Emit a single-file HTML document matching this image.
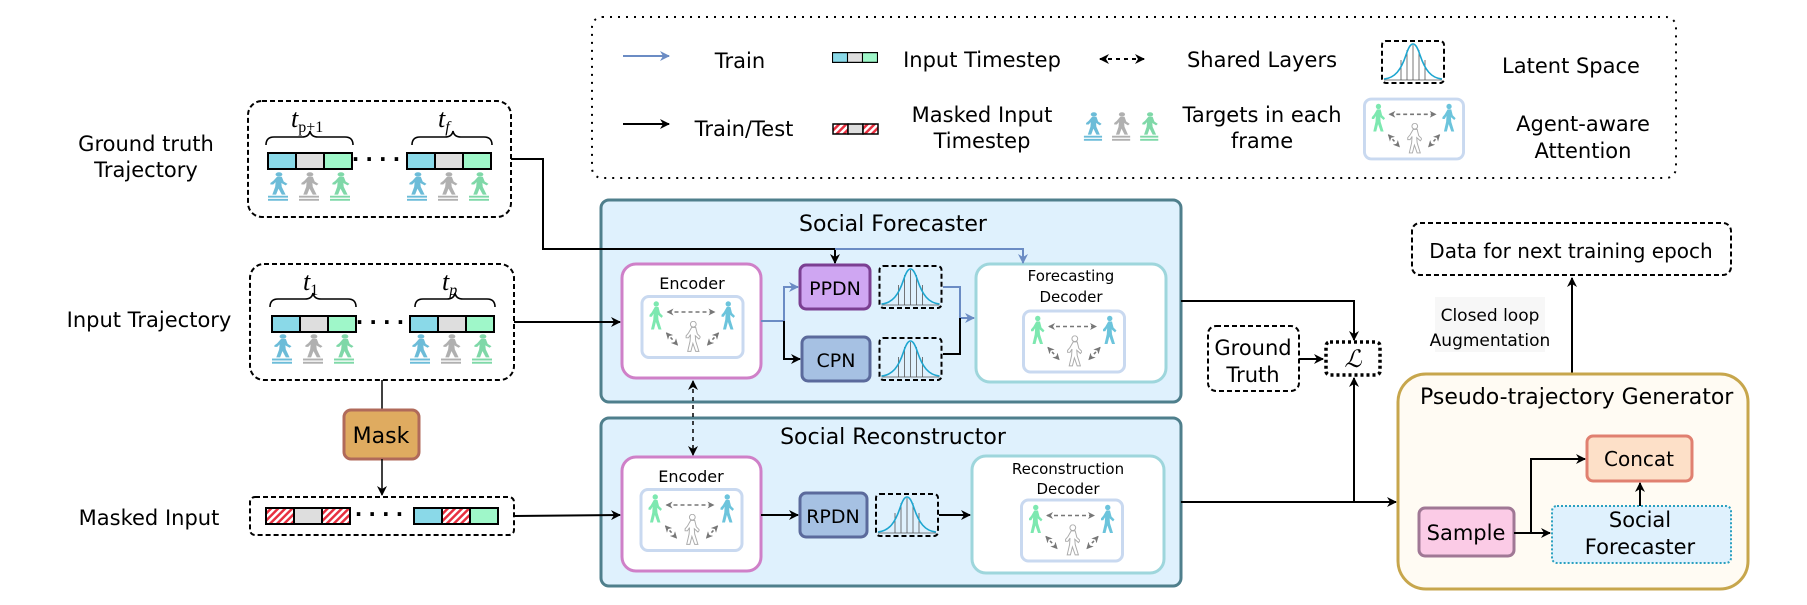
<!DOCTYPE html>
<html><head><meta charset="utf-8"><style>
html,body{margin:0;padding:0;background:#fff;}
svg{display:block;font-family:"DejaVu Sans","Liberation Sans",sans-serif;}
</style></head><body>
<svg width="1807" height="605" viewBox="0 0 1807 605" xmlns="http://www.w3.org/2000/svg">
<defs>
<marker id="ab" markerWidth="10" markerHeight="10" refX="9" refY="5" orient="auto-start-reverse" markerUnits="userSpaceOnUse"><path d="M0,0 L10,5 L0,10 L3,5 z" fill="#000"/></marker>
<marker id="abl" markerWidth="10" markerHeight="10" refX="9" refY="5" orient="auto" markerUnits="userSpaceOnUse"><path d="M0,0 L10,5 L0,10 L3,5 z" fill="#6b8cc4"/></marker>
<marker id="ag" markerWidth="7" markerHeight="7" refX="6" refY="3.5" orient="auto-start-reverse" markerUnits="userSpaceOnUse"><path d="M0,0 L7,3.5 L0,7 L2,3.5 z" fill="#777"/></marker>
<pattern id="hatch" width="5" height="5" patternUnits="userSpaceOnUse" patternTransform="rotate(45)"><rect width="5" height="5" fill="#fff"/><rect width="2.5" height="5" fill="#e83040"/></pattern>
<symbol id="ped" viewBox="0 0 20 40">
<circle cx="11" cy="4" r="3.6" fill="currentColor"/>
<path d="M9,8 L14,8 L16,16 L20,20 L18,22.5 L13.5,18.5 L14,25 L18,38 L14,38 L10.5,28 L8,38 L4,38 L7,25 L7.5,17 L5,21 L2,21 L2,18.5 L5,15 z" fill="currentColor"/>
</symbol>
<symbol id="pedp" viewBox="0 0 20 48">
<use href="#ped" x="0" y="0" width="20" height="38"/>
<rect x="0" y="38" width="20" height="3" fill="currentColor"/>
<rect x="0" y="43" width="20" height="3" fill="currentColor"/>
</symbol>
<symbol id="att" viewBox="0 0 104 64">
<rect x="1.5" y="1.5" width="101" height="61" rx="7" fill="#fff" stroke="#c9d9f0" stroke-width="3"/>
<use href="#ped" x="7" y="6" width="16" height="30" color="#7de8b0"/>
<use href="#ped" x="79" y="6" width="16" height="30" color="#6cc4dc"/>
<use href="#ped" x="44" y="26" width="16" height="32" color="#fff" stroke="#aaa" stroke-width="1.2"/>
<line x1="27" y1="17" x2="74" y2="17" stroke="#777" stroke-width="1.6" stroke-dasharray="4,3" marker-end="url(#ag)" marker-start="url(#ag)"/>
<line x1="26" y1="38" x2="37" y2="50" stroke="#777" stroke-width="1.6" stroke-dasharray="3,3" marker-end="url(#ag)" marker-start="url(#ag)"/>
<line x1="78" y1="38" x2="67" y2="50" stroke="#777" stroke-width="1.6" stroke-dasharray="3,3" marker-end="url(#ag)" marker-start="url(#ag)"/>
</symbol>
<symbol id="gauss" viewBox="0 0 64 44">
<rect x="1" y="1" width="62" height="42" rx="4" fill="none" stroke="#000" stroke-width="2" stroke-dasharray="5,3"/>
<g stroke="#555" stroke-width="0.8"><line x1="20" y1="20" x2="20" y2="40"/><line x1="26" y1="10" x2="26" y2="40"/><line x1="32" y1="5" x2="32" y2="40"/><line x1="38" y1="10" x2="38" y2="40"/><line x1="44" y1="20" x2="44" y2="40"/><line x1="3" y1="40" x2="61" y2="40"/></g>
<path d="M3,39 C14,38 20,30 25,15 C28,6 30,4 32,4 C34,4 36,6 39,15 C44,30 50,38 61,39" fill="none" stroke="#1ea6d0" stroke-width="1.6"/>
</symbol>
<symbol id="bar" viewBox="0 0 86 18" preserveAspectRatio="none">
<rect x="1" y="1" width="28" height="16" fill="#8ad9e8" stroke="#000" stroke-width="2"/>
<rect x="29" y="1" width="28" height="16" fill="#dedede" stroke="#000" stroke-width="2"/>
<rect x="57" y="1" width="28" height="16" fill="#9ff7c9" stroke="#000" stroke-width="2"/>
</symbol>
<symbol id="peds3" viewBox="0 0 86 48" preserveAspectRatio="none">
<use href="#pedp" x="0" y="0" width="22" height="48" color="#6cbcd8"/>
<use href="#pedp" x="31" y="0" width="22" height="48" color="#b0b0b0"/>
<use href="#pedp" x="62" y="0" width="22" height="48" color="#7fd8a8"/>
</symbol>
</defs>

<!-- Legend -->
<rect x="592" y="17" width="1084" height="161" rx="10" fill="none" stroke="#000" stroke-width="2" stroke-dasharray="2,6"/>
<line x1="623" y1="56" x2="669" y2="56" stroke="#6b8cc4" stroke-width="2" marker-end="url(#abl)"/>
<text x="740" y="68" font-size="21" text-anchor="middle">Train</text>
<use href="#bar" x="832" y="52" width="46" height="11"/>
<text x="982" y="67" font-size="21" text-anchor="middle">Input Timestep</text>
<line x1="1100" y1="59" x2="1144" y2="59" stroke="#000" stroke-width="2" stroke-dasharray="4,4" marker-end="url(#ab)" marker-start="url(#ab)"/>
<text x="1262" y="67" font-size="21" text-anchor="middle">Shared Layers</text>
<use href="#gauss" x="1381" y="40" width="64" height="44"/>
<text x="1571" y="73" font-size="21" text-anchor="middle">Latent Space</text>
<line x1="623" y1="124" x2="669" y2="124" stroke="#000" stroke-width="2" marker-end="url(#ab)"/>
<text x="744" y="136" font-size="21" text-anchor="middle">Train/Test</text>
<rect x="833" y="124" width="15" height="10" fill="url(#hatch)" stroke="#000" stroke-width="1.5"/>
<rect x="848" y="124" width="15" height="10" fill="#dedede" stroke="#000" stroke-width="1.5"/>
<rect x="863" y="124" width="15" height="10" fill="url(#hatch)" stroke="#000" stroke-width="1.5"/>
<text x="982" y="122" font-size="21" text-anchor="middle">Masked Input</text>
<text x="982" y="148" font-size="21" text-anchor="middle">Timestep</text>
<use href="#peds3" x="1083" y="112" width="78" height="30"/>
<text x="1262" y="122" font-size="21" text-anchor="middle">Targets in each</text>
<text x="1262" y="148" font-size="21" text-anchor="middle">frame</text>
<use href="#att" x="1363" y="96" width="102" height="66"/>
<text x="1583" y="131" font-size="21" text-anchor="middle">Agent-aware</text>
<text x="1583" y="158" font-size="21" text-anchor="middle">Attention</text>

<!-- Left labels -->
<text x="146" y="151" font-size="21" text-anchor="middle">Ground truth</text>
<text x="146" y="177" font-size="21" text-anchor="middle">Trajectory</text>
<text x="149" y="327" font-size="21" text-anchor="middle">Input Trajectory</text>
<text x="149" y="525" font-size="21" text-anchor="middle">Masked Input</text>

<!-- GT box -->
<rect x="248" y="101" width="263" height="116" rx="14" fill="none" stroke="#000" stroke-width="2" stroke-dasharray="5,3"/>
<text x="291" y="127" font-size="26" font-style="italic" font-family="Liberation Serif,serif">t<tspan font-size="16" dy="5" font-style="normal">p+1</tspan></text>
<text x="438" y="127" font-size="26" font-style="italic" font-family="Liberation Serif,serif">t<tspan font-size="16" dy="5">f</tspan></text>
<path d="M266,145 Q266,137 274,137 L302,137 Q309,137 310,131 Q311,137 318,137 L345,137 Q353,137 353,145" fill="none" stroke="#000" stroke-width="1.6"/>
<path d="M412,145 Q412,137 420,137 L445,137 Q452,137 453,131 Q454,137 461,137 L484,137 Q492,137 492,145" fill="none" stroke="#000" stroke-width="1.6"/>
<use href="#bar" x="267" y="152" width="86" height="18"/>
<use href="#bar" x="406" y="152" width="86" height="18"/>
<text x="379" y="166" font-size="20" font-weight="bold" text-anchor="middle" letter-spacing="6">····</text>
<use href="#peds3" x="267" y="172" width="86" height="30"/>
<use href="#peds3" x="406" y="172" width="86" height="30"/>

<!-- Input box -->
<rect x="250" y="264" width="264" height="116" rx="14" fill="none" stroke="#000" stroke-width="2" stroke-dasharray="5,3"/>
<text x="303" y="290" font-size="26" font-style="italic" font-family="Liberation Serif,serif">t<tspan font-size="16" dy="5" font-style="normal">1</tspan></text>
<text x="442" y="290" font-size="26" font-style="italic" font-family="Liberation Serif,serif">t<tspan font-size="16" dy="5">p</tspan></text>
<path d="M270,307 Q270,299 278,299 L305,299 Q312,299 313,293 Q314,299 321,299 L348,299 Q356,299 356,307" fill="none" stroke="#000" stroke-width="1.6"/>
<path d="M415,307 Q415,299 423,299 L447,299 Q454,299 455,293 Q456,299 463,299 L487,299 Q495,299 495,307" fill="none" stroke="#000" stroke-width="1.6"/>
<use href="#bar" x="271" y="315" width="86" height="18"/>
<use href="#bar" x="409" y="315" width="86" height="18"/>
<text x="383" y="329" font-size="20" font-weight="bold" text-anchor="middle" letter-spacing="6">····</text>
<use href="#peds3" x="271" y="334" width="86" height="31"/>
<use href="#peds3" x="409" y="334" width="86" height="31"/>

<!-- Mask -->
<line x1="382" y1="380" x2="382" y2="409" stroke="#000" stroke-width="1.5"/>
<rect x="344" y="410" width="75" height="49" rx="7" fill="#dfab60" stroke="#b06a5a" stroke-width="3"/>
<text x="381" y="443" font-size="22" text-anchor="middle">Mask</text>
<line x1="382" y1="459" x2="382" y2="495" stroke="#000" stroke-width="1.5" marker-end="url(#ab)"/>

<!-- Masked input box -->
<rect x="250" y="497" width="264" height="38" rx="5" fill="none" stroke="#000" stroke-width="2" stroke-dasharray="5,3"/>
<rect x="266" y="508" width="28" height="16" fill="url(#hatch)" stroke="#000" stroke-width="2"/>
<rect x="294" y="508" width="28" height="16" fill="#dedede" stroke="#000" stroke-width="2"/>
<rect x="322" y="508" width="28" height="16" fill="url(#hatch)" stroke="#000" stroke-width="2"/>
<text x="382" y="521" font-size="20" font-weight="bold" text-anchor="middle" letter-spacing="6">····</text>
<rect x="414" y="508" width="28" height="16" fill="#8ad9e8" stroke="#000" stroke-width="2"/>
<rect x="442" y="508" width="28" height="16" fill="url(#hatch)" stroke="#000" stroke-width="2"/>
<rect x="470" y="508" width="28" height="16" fill="#9ff7c9" stroke="#000" stroke-width="2"/>

<!-- Social Forecaster -->
<rect x="601" y="200" width="580" height="202" rx="8" fill="#dff1fd" stroke="#4f7f8c" stroke-width="3"/>
<text x="893" y="231" font-size="22" text-anchor="middle">Social Forecaster</text>
<rect x="622" y="264" width="139" height="114" rx="14" fill="#fff" stroke="#cf80c8" stroke-width="3"/>
<text x="692" y="289" font-size="16" text-anchor="middle">Encoder</text>
<use href="#att" x="640" y="295" width="105" height="64"/>
<rect x="800" y="265" width="70" height="44" rx="6" fill="#cfa6f2" stroke="#7b3f92" stroke-width="3"/>
<text x="835" y="295" font-size="19" text-anchor="middle">PPDN</text>
<rect x="802" y="337" width="68" height="44" rx="6" fill="#a6c1e3" stroke="#5b6a9c" stroke-width="3"/>
<text x="836" y="367" font-size="19" text-anchor="middle">CPN</text>
<use href="#gauss" x="878" y="265" width="65" height="44"/>
<use href="#gauss" x="878" y="337" width="65" height="44"/>
<rect x="976" y="264" width="190" height="118" rx="14" fill="#fff" stroke="#9ed6dc" stroke-width="3"/>
<text x="1071" y="281" font-size="15" text-anchor="middle">Forecasting</text>
<text x="1071" y="302" font-size="15" text-anchor="middle">Decoder</text>
<use href="#att" x="1022" y="309" width="104" height="65"/>
<line x1="514" y1="322" x2="620" y2="322" stroke="#000" stroke-width="2" marker-end="url(#ab)"/>
<polyline points="511,159 543,159 543,249 835,249 835,263" fill="none" stroke="#000" stroke-width="2" marker-end="url(#ab)"/>
<polyline points="835,249 1023,249 1023,263" fill="none" stroke="#6b8cc4" stroke-width="2" marker-end="url(#abl)"/>
<polyline points="761,321 784,321 784,287 798,287" fill="none" stroke="#6b8cc4" stroke-width="2" marker-end="url(#abl)"/>
<polyline points="784,321 784,359 800,359" fill="none" stroke="#000" stroke-width="2" marker-end="url(#ab)"/>
<polyline points="943,287 960,287 960,318 974,318" fill="none" stroke="#6b8cc4" stroke-width="2" marker-end="url(#abl)"/>
<polyline points="943,354 960,354 960,318" fill="none" stroke="#000" stroke-width="2"/>

<!-- Social Reconstructor -->
<rect x="601" y="418" width="580" height="168" rx="8" fill="#dff1fd" stroke="#4f7f8c" stroke-width="3"/>
<text x="893" y="444" font-size="22" text-anchor="middle">Social Reconstructor</text>
<rect x="622" y="457" width="139" height="114" rx="14" fill="#fff" stroke="#cf80c8" stroke-width="3"/>
<text x="691" y="482" font-size="16" text-anchor="middle">Encoder</text>
<use href="#att" x="639" y="488" width="105" height="64"/>
<rect x="800" y="493" width="67" height="44" rx="6" fill="#a6c1e3" stroke="#5b6a9c" stroke-width="3"/>
<text x="833" y="523" font-size="19" text-anchor="middle">RPDN</text>
<use href="#gauss" x="875" y="493" width="64" height="44"/>
<rect x="972" y="456" width="192" height="117" rx="14" fill="#fff" stroke="#9ed6dc" stroke-width="3"/>
<text x="1068" y="474" font-size="15" text-anchor="middle">Reconstruction</text>
<text x="1068" y="494" font-size="15" text-anchor="middle">Decoder</text>
<use href="#att" x="1020" y="498" width="104" height="65"/>
<line x1="514" y1="516" x2="620" y2="515" stroke="#000" stroke-width="2" marker-end="url(#ab)"/>
<line x1="761" y1="515" x2="798" y2="515" stroke="#000" stroke-width="2" marker-end="url(#ab)"/>
<line x1="939" y1="515" x2="970" y2="515" stroke="#000" stroke-width="2" marker-end="url(#ab)"/>
<line x1="693" y1="381" x2="693" y2="455" stroke="#000" stroke-width="1.5" stroke-dasharray="4,4" marker-end="url(#ab)" marker-start="url(#ab)"/>

<!-- Loss -->
<rect x="1208" y="326" width="91" height="65" rx="8" fill="none" stroke="#000" stroke-width="2" stroke-dasharray="5,3"/>
<text x="1253" y="355" font-size="21" text-anchor="middle">Ground</text>
<text x="1253" y="382" font-size="21" text-anchor="middle">Truth</text>
<line x1="1299" y1="359" x2="1323" y2="359" stroke="#000" stroke-width="2" marker-end="url(#ab)"/>
<rect x="1326" y="342" width="54" height="33" rx="4" fill="#fff" stroke="#000" stroke-width="3.5" stroke-dasharray="3,3"/>
<text x="1353" y="367" font-size="24" font-style="italic" text-anchor="middle" font-family="Liberation Serif,serif">ℒ</text>
<polyline points="1181,301 1354,301 1354,340" fill="none" stroke="#000" stroke-width="2" marker-end="url(#ab)"/>
<line x1="1181" y1="502" x2="1396" y2="502" stroke="#000" stroke-width="2" marker-end="url(#ab)"/>
<line x1="1354" y1="502" x2="1354" y2="378" stroke="#000" stroke-width="2" marker-end="url(#ab)"/>

<!-- Data for next -->
<rect x="1412" y="223" width="319" height="52" rx="8" fill="none" stroke="#000" stroke-width="2" stroke-dasharray="5,3"/>
<text x="1571" y="258" font-size="20" text-anchor="middle">Data for next training epoch</text>
<rect x="1435" y="297" width="110" height="55" fill="#f7f7f7"/>
<text x="1490" y="321" font-size="17" text-anchor="middle">Closed loop</text>
<text x="1490" y="346" font-size="17" text-anchor="middle">Augmentation</text>
<line x1="1572" y1="375" x2="1572" y2="278" stroke="#000" stroke-width="2" marker-end="url(#ab)"/>

<!-- PTG -->
<rect x="1398" y="374" width="350" height="215" rx="28" fill="#fffbf3" stroke="#c7a64c" stroke-width="3"/>
<text x="1420" y="404" font-size="22">Pseudo-trajectory Generator</text>
<rect x="1587" y="436" width="105" height="45" rx="6" fill="#fde0c8" stroke="#e08070" stroke-width="3"/>
<text x="1639" y="466" font-size="20" text-anchor="middle">Concat</text>
<rect x="1552" y="506" width="179" height="57" rx="5" fill="#dff1fd" stroke="#2aa0c0" stroke-width="2" stroke-dasharray="2,2"/>
<text x="1640" y="527" font-size="21" text-anchor="middle">Social</text>
<text x="1640" y="554" font-size="21" text-anchor="middle">Forecaster</text>
<rect x="1419" y="508" width="95" height="48" rx="6" fill="#fbcbe6" stroke="#a07895" stroke-width="3"/>
<text x="1466" y="540" font-size="21" text-anchor="middle">Sample</text>
<line x1="1514" y1="533" x2="1550" y2="533" stroke="#000" stroke-width="2" marker-end="url(#ab)"/>
<polyline points="1531,533 1531,459 1585,459" fill="none" stroke="#000" stroke-width="2" marker-end="url(#ab)"/>
<line x1="1640" y1="506" x2="1640" y2="483" stroke="#000" stroke-width="2" marker-end="url(#ab)"/>
</svg>
</body></html>
